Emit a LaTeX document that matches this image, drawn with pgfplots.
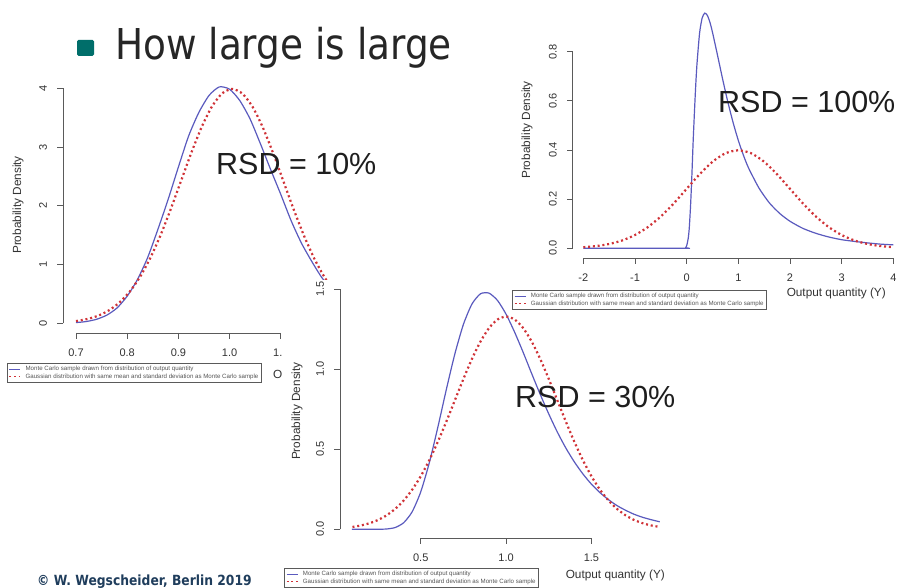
\documentclass[border=0pt]{standalone}
\usepackage{fontspec}
\setmainfont{Liberation Sans}
\newfontfamily\titlefont{DejaVu Sans}[FakeStretch=0.88]
\usepackage{pgfplots}
\pgfplotsset{compat=1.18}

\definecolor{axgray}{HTML}{5A5A5A}
\definecolor{txtgray}{HTML}{333333}
\definecolor{legtxt}{HTML}{555555}
\definecolor{blueline}{RGB}{90,90,190}
\definecolor{redline}{RGB}{208,50,55}
\definecolor{titlecol}{HTML}{262626}
\definecolor{bulletcol}{HTML}{006E6A}
\definecolor{copycol}{HTML}{1F3D5C}
\definecolor{rsdcol}{HTML}{1E1E1E}

\tikzset{
  rax/.style={draw=axgray, line width=0.8pt},
  rtick/.style={font=\fontsize{11}{13}\selectfont, text=txtgray, inner sep=0pt},
  rlab/.style={font=\fontsize{11.8}{13}\selectfont, text=txtgray, inner sep=0pt},
  rsd/.style={font=\fontsize{30.5}{36}\selectfont, text=rsdcol, inner sep=0pt, anchor=base west},
}

\pgfplotsset{
  rplot/.style={hide axis, clip=false, anchor=south west, legend cell align=left,
    legend style={draw=axgray, line width=0.6pt, fill=white,
      font=\fontsize{6.15}{7}\selectfont, text=legtxt,
      inner sep=1.8pt, row sep=0pt, column sep=4pt, nodes={inner sep=0.9pt}, anchor=north west},
    legend image code/.code={\draw[##1, line width=0.9pt] (0pt,0pt) -- (11pt,0pt);}},
  mc/.style={color=blueline, line width=1.2pt, smooth, tension=0.4, no markers},
  gauss/.style={color=redline, line width=2.2pt, dash pattern=on 2pt off 2.8pt, smooth, tension=0.4, no markers},
}

\begin{document}
\begin{tikzpicture}
\useasboundingbox (0,0) rectangle (904pt,587pt);
\clip (0,0) rectangle (904pt,587pt);
\fill[white] (0,0) rectangle (904pt,587pt);

% slide heading
\fill[bulletcol, rounded corners=1.5pt] (77pt,531pt) rectangle (94pt,547pt);
\node[anchor=base west, inner sep=0pt, text=titlecol, font=\titlefont\fontsize{42.5}{48}\selectfont] at (115pt,527pt) {How large is large};

% ---------------- RSD = 10 % ----------------
\begin{axis}[rplot, at={(65.76pt,251.95pt)}, x=512pt, y=58.75pt,
  xmin=0.68, xmax=1.22, ymin=-0.2, ymax=4.2,
  legend style={at={(-0.2136,-0.1081)}}]
\addplot[mc] coordinates {
 (0.70,0.012) (0.72,0.030) (0.74,0.068) (0.76,0.138) (0.78,0.260) (0.80,0.462)
 (0.82,0.745) (0.84,1.120) (0.86,1.600) (0.88,2.110) (0.90,2.660) (0.92,3.189)
 (0.94,3.590) (0.96,3.880) (0.98,4.024) (1.00,3.984) (1.02,3.790) (1.04,3.478)
 (1.06,3.060) (1.08,2.620) (1.10,2.193) (1.12,1.750) (1.14,1.370) (1.16,1.060)
 (1.18,0.780) (1.20,0.570)};
\addplot[gauss] coordinates {
 (0.700,0.038) (0.705,0.0443) (0.725,0.0792) (0.745,0.1357) (0.765,0.2240)
 (0.785,0.3547) (0.805,0.5399) (0.825,0.7895) (0.845,1.1092) (0.865,1.4973)
 (0.885,1.9419) (0.905,2.4197) (0.925,2.8969) (0.945,3.3322) (0.965,3.6827)
 (0.985,3.9104) (1.005,3.9894) (1.025,3.9104) (1.045,3.6827) (1.065,3.3322)
 (1.085,2.8969) (1.105,2.4197) (1.125,1.9419) (1.145,1.4973) (1.165,1.1092)
 (1.185,0.7895) (1.205,0.5399)};
\legend{Monte Carlo sample drawn from distribution of output quantity,
        Gaussian distribution with same mean and standard deviation as Monte Carlo sample}
% axes drawn R-style, between first and last tick
\draw[rax] (axis cs:0.7,-0.165) -- (axis cs:1.1,-0.165);
\pgfplotsinvokeforeach{0.7,0.8,0.9,1.0,1.1}{
  \draw[rax] (axis cs:#1,-0.165) -- ++(0pt,-6pt);
  \node[rtick] at (axis cs:#1,-0.497) {#1};}
\draw[rax] (axis cs:0.6746,0) -- (axis cs:0.6746,4);
\pgfplotsinvokeforeach{0,1,2,3,4}{
  \draw[rax] (axis cs:0.6746,#1) -- ++(-6pt,0pt);
  \node[rtick, rotate=90] at (axis cs:0.6355,#1) {#1};}
\node[rlab, rotate=90] at (axis cs:0.5867,2.014) {Probability Density};
\node[rlab, anchor=west] at (axis cs:1.0848,-0.880) {Output quantity (Y)};
\end{axis}
\node[rsd] at (216pt,412pt) {RSD = 10\%};

% white sheet of the RSD = 30 % plot, lying over the first one
\fill[white] (282pt,0pt) rectangle (700pt,307pt);

% ---------------- RSD = 30 % ----------------
\begin{axis}[rplot, at={(338.8pt,48.1pt)}, x=170.7pt, y=160pt,
  xmin=0.02, xmax=1.98, ymin=-0.06, ymax=1.55,
  legend style={at={(-0.1638,-0.113)}}]
\addplot[mc] coordinates {
 (0.096,0) (0.20,0) (0.25,0.0002) (0.30,0.002) (0.35,0.011) (0.40,0.041)
 (0.45,0.110) (0.50,0.234) (0.55,0.415) (0.60,0.637) (0.65,0.874) (0.70,1.097)
 (0.75,1.281) (0.80,1.408) (0.85,1.472) (0.90,1.476) (0.95,1.430) (1.00,1.344)
 (1.05,1.232) (1.10,1.106) (1.15,0.973) (1.20,0.843) (1.25,0.721) (1.30,0.608)
 (1.35,0.508) (1.40,0.421) (1.45,0.346) (1.50,0.282) (1.55,0.229) (1.60,0.185)
 (1.65,0.148) (1.70,0.119) (1.75,0.094) (1.80,0.075) (1.85,0.060) (1.90,0.047)};
\addplot[gauss] coordinates {
 (0.10,0.0148) (0.15,0.0240) (0.20,0.0380) (0.25,0.0584) (0.30,0.0874)
 (0.35,0.1272) (0.40,0.1800) (0.45,0.2476) (0.50,0.3316) (0.55,0.4317)
 (0.60,0.5467) (0.65,0.6733) (0.70,0.8066) (0.75,0.9396) (0.80,1.0648)
 (0.85,1.1735) (0.90,1.2580) (0.95,1.3114) (1.00,1.3298) (1.05,1.3114)
 (1.10,1.2580) (1.15,1.1735) (1.20,1.0648) (1.25,0.9396) (1.30,0.8066)
 (1.35,0.6733) (1.40,0.5467) (1.45,0.4317) (1.50,0.3316) (1.55,0.2476)
 (1.60,0.1800) (1.65,0.1272) (1.70,0.0874) (1.75,0.0584) (1.80,0.0380)
 (1.85,0.0240) (1.90,0.0148)};
\legend{Monte Carlo sample drawn from distribution of output quantity,
        Gaussian distribution with same mean and standard deviation as Monte Carlo sample}
\draw[rax] (axis cs:0.5,-0.056) -- (axis cs:1.5,-0.056);
\pgfplotsinvokeforeach{0.5,1.0,1.5}{
  \draw[rax] (axis cs:#1,-0.056) -- ++(0pt,-6pt);
  \node[rtick] at (axis cs:#1,-0.179) {#1};}
\draw[rax] (axis cs:0.0272,0) -- (axis cs:0.0272,1.5);
\pgfplotsinvokeforeach{0.0,0.5,1.0,1.5}{
  \draw[rax] (axis cs:0.0272,#1) -- ++(-6pt,0pt);
  \node[rtick, rotate=90] at (axis cs:-0.0899,#1) {#1};}
\node[rlab, rotate=90] at (axis cs:-0.2247,0.739) {Probability Density};
\node[rlab, anchor=east] at (axis cs:1.9312,-0.2856) {Output quantity (Y)};
\end{axis}
\node[rsd] at (515pt,180pt) {RSD = 30\%};

% ---------------- RSD = 100 % ----------------
\begin{axis}[rplot, at={(570.9pt,328.87pt)}, x=51.67pt, y=245.75pt,
  xmin=-2.24, xmax=4.24, ymin=-0.04, ymax=1.0,
  legend style={at={(-0.176,-0.1247)}}]
\addplot[mc] coordinates {
 (-2.0,0) (-0.05,0) (-0.02,0.002) (0.00,0.010) (0.03,0.040) (0.05,0.080)
 (0.075,0.170) (0.10,0.290) (0.125,0.430) (0.15,0.550) (0.175,0.660) (0.20,0.750)
 (0.25,0.875) (0.30,0.937) (0.35,0.957) (0.40,0.948) (0.45,0.920) (0.50,0.879)
 (0.60,0.783) (0.70,0.685) (0.80,0.593) (0.90,0.511) (1.00,0.439) (1.10,0.378)
 (1.20,0.326) (1.40,0.245) (1.60,0.185) (1.80,0.142) (2.00,0.110) (2.25,0.081)
 (2.50,0.061) (2.75,0.046) (3.00,0.035) (3.25,0.028) (3.50,0.022) (3.75,0.017)
 (4.00,0.014)};
\addplot[gauss] coordinates {
 (-2.00,0.0044) (-1.75,0.0091) (-1.50,0.0175) (-1.25,0.0317) (-1.00,0.0540)
 (-0.75,0.0863) (-0.50,0.1295) (-0.25,0.1826) (0.00,0.2420) (0.25,0.3011)
 (0.50,0.3521) (0.75,0.3867) (1.00,0.3989) (1.25,0.3867) (1.50,0.3521)
 (1.75,0.3011) (2.00,0.2420) (2.25,0.1826) (2.50,0.1295) (2.75,0.0863)
 (3.00,0.0540) (3.25,0.0317) (3.50,0.0175) (3.75,0.0091) (4.00,0.0044)};
\legend{Monte Carlo sample drawn from distribution of output quantity,
        Gaussian distribution with same mean and standard deviation as Monte Carlo sample}
\draw[rax] (axis cs:-2,-0.0407) -- (axis cs:4,-0.0407);
\pgfplotsinvokeforeach{-2,-1,0,1,2,3,4}{
  \draw[rax] (axis cs:#1,-0.0407) -- ++(0pt,-6pt);
  \node[rtick] at (axis cs:#1,-0.1209) {#1};}
\draw[rax] (axis cs:-2.205,0) -- (axis cs:-2.205,0.8);
\pgfplotsinvokeforeach{0.0,0.2,0.4,0.6,0.8}{
  \draw[rax] (axis cs:-2.205,#1) -- ++(-6pt,0pt);
  \node[rtick, rotate=90] at (axis cs:-2.592,#1) {#1};}
\node[rlab, rotate=90] at (axis cs:-3.0896,0.4814) {Probability Density};
\node[rlab, anchor=east] at (axis cs:3.858,-0.1819) {Output quantity (Y)};
\end{axis}
\node[rsd] at (718pt,474pt) {RSD = 100\%};

% footer
\node[anchor=base west, inner sep=0pt, text=copycol, font=\titlefont\bfseries\fontsize{14}{16}\selectfont] at (37pt,2pt) {© W. Wegscheider, Berlin 2019};
\end{tikzpicture}
\end{document}
